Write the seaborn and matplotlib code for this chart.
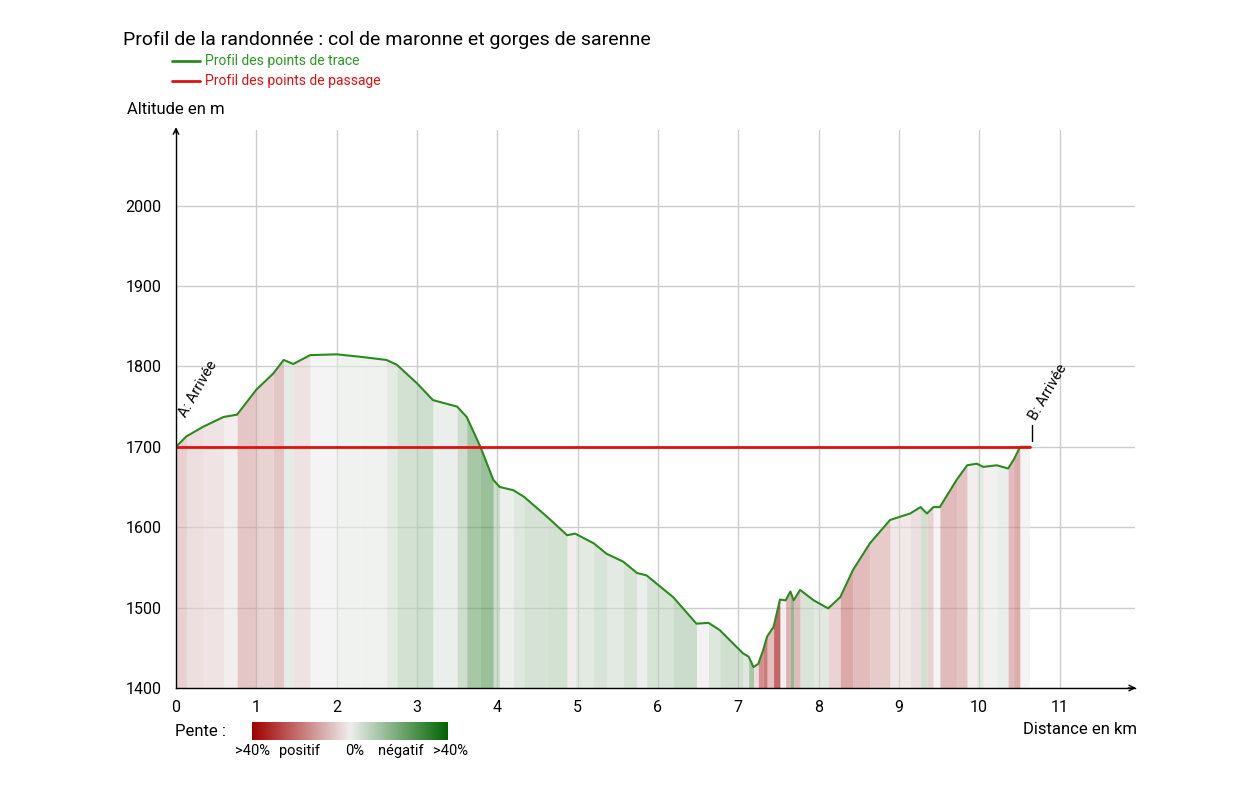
import numpy as np
import pandas as pd
import matplotlib
matplotlib.use("Agg")
import matplotlib.pyplot as plt
from matplotlib.colors import LinearSegmentedColormap
from matplotlib.lines import Line2D
import seaborn as sns

distance_km = [0, 0.13, 0.34, 0.59, 0.76, 1.0, 1.21, 1.34, 1.46, 1.67, 2.0, 2.29, 2.62, 2.75,
               3.0, 3.2, 3.5, 3.62, 3.79, 3.95, 4.03, 4.2, 4.33, 4.62, 4.87, 4.97, 5.2, 5.36,
               5.57, 5.74, 5.86, 6.03, 6.19, 6.48, 6.63, 6.77, 7.06, 7.13, 7.19, 7.25, 7.31,
               7.36, 7.44, 7.52, 7.59, 7.65, 7.69, 7.77, 7.94, 8.12, 8.27, 8.43, 8.64, 8.89,
               9.14, 9.27, 9.35, 9.43, 9.51, 9.72, 9.85, 9.97, 10.05, 10.22, 10.36, 10.43,
               10.51, 10.63]
altitude_m = [1700, 1713, 1725, 1737, 1740, 1771, 1791, 1808, 1803, 1814, 1815, 1812, 1808, 1802,
              1779, 1758, 1750, 1737, 1700, 1659, 1650, 1646, 1638, 1613, 1590, 1592, 1580, 1567,
              1557, 1543, 1540, 1526, 1513, 1480, 1481, 1472, 1443, 1439, 1426, 1430, 1447,
              1464, 1476, 1510, 1509, 1520, 1509, 1522, 1509, 1499, 1513, 1547, 1580, 1609,
              1617, 1625, 1617, 1625, 1625, 1659, 1677, 1679, 1675, 1677, 1673, 1684,
              1700, 1700]

# Points de passage (A et B)
passage_km = [0, 10.63]
passage_alt = [1700, 1700]

x_ticks = list(range(0, 12))
y_ticks = list(range(1400, 2001, 100))

df = pd.DataFrame({"distance": distance_km, "altitude": altitude_m})

sns.set_style("white")
plt.rcParams["font.family"] = ["Roboto", "DejaVu Sans"]
plt.rcParams["text.color"] = "black"

W, H = 1240, 785
fig = plt.figure(figsize=(W / 100, H / 100), dpi=100)
ax = fig.add_axes([176 / W, 1 - 688 / H, (1135 - 176) / W, (688 - 130) / H])

pente_cmap = LinearSegmentedColormap.from_list(
    "pente", ["#a00000", "#eeeeee", "#006400"])

# bandes colorées selon la pente
for i in range(len(df) - 1):
    x0, x1 = df.distance[i], df.distance[i + 1]
    y0, y1 = df.altitude[i], df.altitude[i + 1]
    pente = (y1 - y0) / ((x1 - x0) * 1000) * 100
    t = np.clip(0.5 - pente / 80, 0, 1)
    ax.fill_between([x0, x1], [y0, y1], 1400, color=pente_cmap(t), alpha=0.6,
                    linewidth=0)

sns.lineplot(data=df, x="distance", y="altitude", ax=ax, color="#2a8a1e",
             linewidth=1.5, sort=False, estimator=None)
sns.lineplot(x=passage_km, y=passage_alt, ax=ax, color="#e01010", linewidth=2,
             sort=False, estimator=None)

ax.set_xlim(0, 11.94)
ax.set_ylim(1400, 2094)
ax.set_xticks(x_ticks)
ax.set_yticks(y_ticks)
ax.grid(True, color="#cccccc", linewidth=1)
ax.set_axisbelow(True)
ax.set_xlabel("")
ax.set_ylabel("")
for s in ["top", "right"]:
    ax.spines[s].set_visible(False)
for s in ["left", "bottom"]:
    ax.spines[s].set_color("black")
    ax.spines[s].set_linewidth(1)
ax.tick_params(direction="inout", length=5, width=1, colors="black",
               labelsize=11.5, pad=6)
ax.tick_params(axis="y", pad=8)

# flèches des axes
ax.annotate("", xy=(1.004, 0), xytext=(0.99, 0), xycoords="axes fraction",
            arrowprops=dict(arrowstyle="->", color="black", lw=1))
ax.annotate("", xy=(0, 1.01), xytext=(0, 0.99), xycoords="axes fraction",
            arrowprops=dict(arrowstyle="->", color="black", lw=1))

# annotations A et B
ax.text(0.16, 1734, "A: Arrivée", rotation=60, rotation_mode="anchor",
        ha="left", va="bottom", fontsize=10.5)
ax.plot([10.66, 10.66], [1707, 1727], color="black", lw=1, clip_on=False)
ax.text(10.74, 1730, "B: Arrivée", rotation=60, rotation_mode="anchor",
        ha="left", va="bottom", fontsize=10.5)

# titres et libellés
fig.text(123 / W, 1 - 40 / H, "Profil de la randonnée : col de maronne et gorges de sarenne",
         fontsize=14, va="center", ha="left")
fig.text(127 / W, 1 - 110 / H, "Altitude en m", fontsize=12, va="center", ha="left")
fig.text(1137 / W, 1 - 729 / H, "Distance en km", fontsize=12, va="center", ha="right")

# légende
fig.add_artist(Line2D([172 / W, 200 / W], [1 - 61 / H] * 2, color="#2a8a1e", lw=2))
fig.text(205 / W, 1 - 61 / H, "Profil des points de trace", color="#2a9a1e",
         fontsize=10, va="center")
fig.add_artist(Line2D([172 / W, 200 / W], [1 - 81 / H] * 2, color="#e01010", lw=2))
fig.text(205 / W, 1 - 81 / H, "Profil des points de passage", color="#e01010",
         fontsize=10, va="center")

# échelle des pentes
fig.text(175 / W, 1 - 731 / H, "Pente :", fontsize=12, va="center")
cax = fig.add_axes([252 / W, 1 - 740 / H, 196 / W, 18 / H])
cax.imshow(np.linspace(0, 1, 256)[None, :], cmap=pente_cmap, aspect="auto")
cax.set_axis_off()
for xpix, txt in [(253, ">40%"), (300, "positif"), (355, "0%"), (401, "négatif"), (450, ">40%")]:
    fig.text(xpix / W, 1 - 751 / H, txt, fontsize=10.5, ha="center", va="center")

fig.savefig("out.png", dpi=100)
